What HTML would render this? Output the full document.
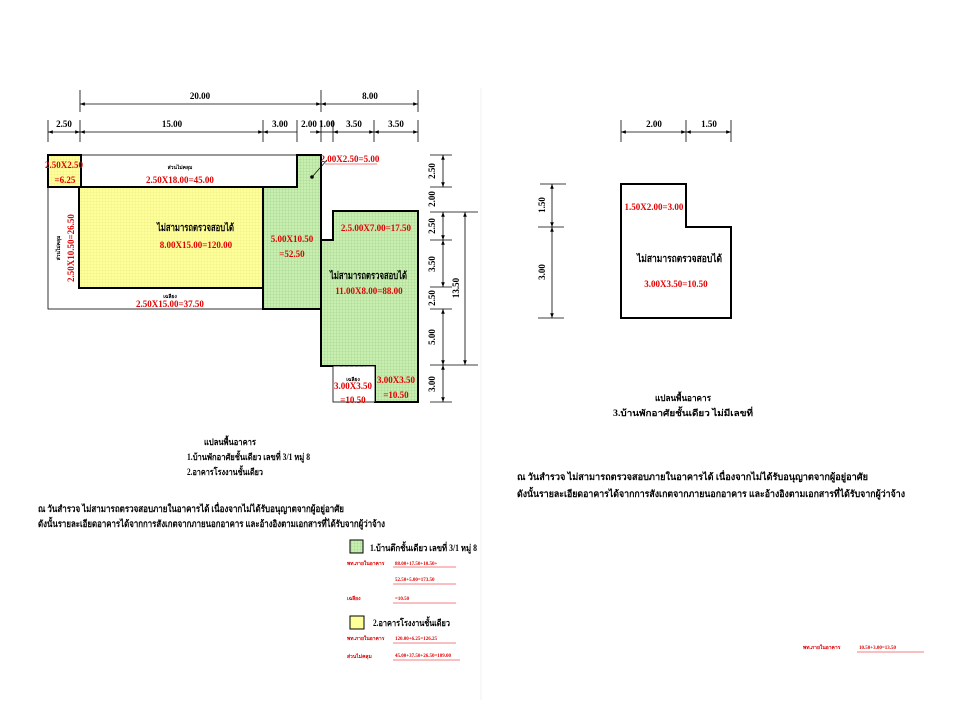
<!DOCTYPE html>
<html><head><meta charset="utf-8"><style>
html,body{margin:0;padding:0;background:#fff;}
svg{display:block;}
text{font-family:"Liberation Serif","Noto Serif CJK SC","Noto Sans CJK SC",serif;font-weight:bold;}
.d{font-size:9px;fill:#000;}
.r{font-size:9px;fill:#e00000;}
.t{font-size:9px;fill:#000;}
</style></head><body>
<svg width="960" height="720" viewBox="0 0 960 720" xmlns="http://www.w3.org/2000/svg">
<defs>
<pattern id="g" width="3" height="3" patternUnits="userSpaceOnUse">
<rect width="3" height="3" fill="#c8eeb0"/>
<path d="M0 0H3M0 0V3" stroke="#9ccf86" stroke-width="0.6"/>
</pattern>
<pattern id="y" width="3" height="3" patternUnits="userSpaceOnUse">
<rect width="3" height="3" fill="#ffff9a"/>
<path d="M0 0H3M0 0V3" stroke="#e8e880" stroke-width="0.5"/>
</pattern>
<marker id="a" viewBox="0 0 8 6" refX="8" refY="3" markerWidth="6" markerHeight="5" orient="auto-start-reverse"><path d="M0 0L8 3L0 6z" fill="#000"/></marker>
</defs>
<line x1="481" y1="88" x2="481" y2="700" stroke="#f2f2f2" stroke-width="1"/>
<g stroke="#000" stroke-width="0.8" fill="none">
<line x1="80" y1="90" x2="80" y2="112"/><line x1="321" y1="90" x2="321" y2="112"/><line x1="418" y1="90" x2="418" y2="112"/>
<line x1="80" y1="104" x2="321" y2="104" marker-start="url(#a)" marker-end="url(#a)"/>
<line x1="321" y1="104" x2="418" y2="104" marker-start="url(#a)" marker-end="url(#a)"/>
<line x1="48" y1="120" x2="48" y2="142"/><line x1="80" y1="120" x2="80" y2="142"/><line x1="263" y1="120" x2="263" y2="142"/><line x1="297" y1="120" x2="297" y2="142"/><line x1="321" y1="120" x2="321" y2="142"/><line x1="333" y1="120" x2="333" y2="142"/><line x1="374" y1="120" x2="374" y2="142"/><line x1="418" y1="120" x2="418" y2="142"/>
<line x1="48" y1="132" x2="80" y2="132" marker-start="url(#a)" marker-end="url(#a)"/>
<line x1="80" y1="132" x2="263" y2="132" marker-start="url(#a)" marker-end="url(#a)"/>
<line x1="263" y1="132" x2="297" y2="132" marker-start="url(#a)"/>
<line x1="310" y1="132" x2="321" y2="132" marker-end="url(#a)"/>
<line x1="321" y1="132" x2="333" y2="132"/>
<line x1="333" y1="132" x2="374" y2="132" marker-start="url(#a)" marker-end="url(#a)"/>
<line x1="374" y1="132" x2="418" y2="132" marker-start="url(#a)" marker-end="url(#a)"/>
</g>
<text class="d" x="200" y="99" text-anchor="middle">20.00</text>
<text class="d" x="370" y="99" text-anchor="middle">8.00</text>
<text class="d" x="64" y="127" text-anchor="middle">2.50</text>
<text class="d" x="172" y="127" text-anchor="middle">15.00</text>
<text class="d" x="280" y="127" text-anchor="middle">3.00</text>
<text class="d" x="309" y="127" text-anchor="middle">2.00</text>
<text class="d" x="327" y="127" text-anchor="middle">1.00</text>
<text class="d" x="354" y="127" text-anchor="middle">3.50</text>
<text class="d" x="396" y="127" text-anchor="middle">3.50</text>
<rect x="48" y="155" width="249" height="32" fill="#fff" stroke="#000" stroke-width="0.8"/>
<rect x="48" y="187" width="215" height="122" fill="#fff" stroke="#000" stroke-width="0.8"/>
<rect x="48" y="155" width="33" height="32" fill="url(#y)" stroke="#000" stroke-width="2"/>
<rect x="79" y="187" width="184" height="101" fill="url(#y)" stroke="#000" stroke-width="2"/>
<path d="M263 187H297V155H321V309H263Z" fill="url(#g)" stroke="#000" stroke-width="2"/>
<path d="M321 240H333V211H418V402H375V366H321Z" fill="url(#g)" stroke="#000" stroke-width="2"/>
<rect x="333" y="366" width="42" height="36" fill="#fff" stroke="#000" stroke-width="0.8"/>
<line x1="340" y1="366" x2="366" y2="366" stroke="#000" stroke-width="1" stroke-dasharray="3 2"/>
<line x1="312" y1="177" x2="327" y2="160" stroke="#000" stroke-width="0.7"/>
<circle cx="312" cy="177" r="1.8" fill="#000"/>
<text class="r" x="64" y="168" text-anchor="middle">2.50X2.50</text>
<text class="r" x="65" y="183" text-anchor="middle">=6.25</text>
<text class="t" x="180" y="169" text-anchor="middle" style="font-size:5px">ส่วนไม่คลุม</text>
<text class="r" x="180" y="183" text-anchor="middle">2.50X18.00=45.00</text>
<text class="t" x="60" y="248" text-anchor="middle" style="font-size:5px" transform="rotate(-90 60 248)">ส่วนไม่คลุม</text>
<text class="r" x="74" y="248" text-anchor="middle" transform="rotate(-90 74 248)">2.50X10.50=26.50</text>
<text class="t" x="157" y="231" style="font-size:10px" textLength="77" lengthAdjust="spacingAndGlyphs">ไม่สามารถตรวจสอบได้</text>
<text class="r" x="196" y="248" text-anchor="middle">8.00X15.00=120.00</text>
<text class="t" x="170" y="298" text-anchor="middle" style="font-size:5px">เฉลียง</text>
<text class="r" x="170" y="307" text-anchor="middle">2.50X15.00=37.50</text>
<text class="r" x="292" y="242" text-anchor="middle">5.00X10.50</text>
<text class="r" x="292" y="257" text-anchor="middle">=52.50</text>
<text class="r" x="350" y="162" text-anchor="middle">2.00X2.50=5.00</text>
<line x1="325" y1="164" x2="377" y2="164" stroke="#e00000" stroke-width="0.5"/>
<text class="r" x="376" y="231" text-anchor="middle">2.5.00X7.00=17.50</text>
<text class="t" x="330" y="279" style="font-size:10px" textLength="77" lengthAdjust="spacingAndGlyphs">ไม่สามารถตรวจสอบได้</text>
<text class="r" x="369" y="294" text-anchor="middle">11.00X8.00=88.00</text>
<text class="t" x="353" y="381" text-anchor="middle" style="font-size:5px">เฉลียง</text>
<text class="r" x="353" y="389" text-anchor="middle">3.00X3.50</text>
<text class="r" x="353" y="403" text-anchor="middle">=10.50</text>
<text class="r" x="396" y="383" text-anchor="middle">3.00X3.50</text>
<text class="r" x="396" y="398" text-anchor="middle">=10.50</text>
<g stroke="#000" stroke-width="0.8" fill="none">
<line x1="430" y1="155" x2="452" y2="155"/><line x1="430" y1="187" x2="452" y2="187"/><line x1="430" y1="212" x2="478" y2="212"/><line x1="430" y1="240" x2="452" y2="240"/><line x1="430" y1="287" x2="452" y2="287"/><line x1="430" y1="309" x2="452" y2="309"/><line x1="430" y1="365" x2="478" y2="365"/><line x1="430" y1="402" x2="452" y2="402"/>
<line x1="443" y1="155" x2="443" y2="187" marker-start="url(#a)" marker-end="url(#a)"/>
<line x1="443" y1="212" x2="443" y2="240" marker-start="url(#a)" marker-end="url(#a)"/>
<line x1="443" y1="240" x2="443" y2="287" marker-start="url(#a)" marker-end="url(#a)"/>
<line x1="443" y1="309" x2="443" y2="365" marker-start="url(#a)" marker-end="url(#a)"/>
<line x1="443" y1="365" x2="443" y2="402" marker-start="url(#a)" marker-end="url(#a)"/>
<line x1="465" y1="212" x2="465" y2="365" marker-start="url(#a)" marker-end="url(#a)"/>
</g>
<text class="d" x="435" y="171" text-anchor="middle" transform="rotate(-90 435 171)">2.50</text>
<text class="d" x="435" y="199" text-anchor="middle" transform="rotate(-90 435 199)">2.00</text>
<text class="d" x="435" y="226" text-anchor="middle" transform="rotate(-90 435 226)">2.50</text>
<text class="d" x="435" y="264" text-anchor="middle" transform="rotate(-90 435 264)">3.50</text>
<text class="d" x="435" y="298" text-anchor="middle" transform="rotate(-90 435 298)">2.50</text>
<text class="d" x="435" y="337" text-anchor="middle" transform="rotate(-90 435 337)">5.00</text>
<text class="d" x="435" y="384" text-anchor="middle" transform="rotate(-90 435 384)">3.00</text>
<text class="d" x="459" y="288" text-anchor="middle" transform="rotate(-90 459 288)">13.50</text>
<text class="t" x="204" y="445" style="font-size:9px" textLength="52" lengthAdjust="spacingAndGlyphs">แปลนพื้นอาคาร</text>
<text class="t" x="187" y="460" style="font-size:9px" textLength="123" lengthAdjust="spacingAndGlyphs">1.บ้านพักอาศัยชั้นเดียว เลขที่ 3/1 หมู่ 8</text>
<text class="t" x="187" y="475" style="font-size:9px" textLength="76" lengthAdjust="spacingAndGlyphs">2.อาคารโรงงานชั้นเดียว</text>
<text class="t" x="38" y="512" style="font-size:9.5px" textLength="306" lengthAdjust="spacingAndGlyphs">ณ วันสำรวจ ไม่สามารถตรวจสอบภายในอาคารได้ เนื่องจากไม่ได้รับอนุญาตจากผู้อยู่อาศัย</text>
<text class="t" x="38" y="527" style="font-size:9.5px" textLength="347" lengthAdjust="spacingAndGlyphs">ดังนั้นรายละเอียดอาคารได้จากการสังเกตจากภายนอกอาคาร และอ้างอิงตามเอกสารที่ได้รับจากผู้ว่าจ้าง</text>
<rect x="350" y="540" width="13" height="13" fill="url(#g)" stroke="#000" stroke-width="1"/>
<text class="t" x="370" y="551" style="font-size:9px" textLength="107" lengthAdjust="spacingAndGlyphs">1.บ้านตึกชั้นเดียว เลขที่ 3/1 หมู่ 8</text>
<text class="r" x="347" y="565" style="font-size:5px">พท.ภายในอาคาร</text>
<text class="r" x="395" y="565" style="font-size:5px">88.00+17.50+10.50+</text>
<line x1="393" y1="567" x2="456" y2="567" stroke="#e00000" stroke-width="0.5"/>
<text class="r" x="395" y="581" style="font-size:5px">52.50+5.00=173.50</text>
<line x1="393" y1="584" x2="456" y2="584" stroke="#e00000" stroke-width="0.5"/>
<text class="r" x="347" y="600" style="font-size:5px">เฉลียง</text>
<text class="r" x="395" y="600" style="font-size:5px">=10.50</text>
<line x1="393" y1="603" x2="456" y2="603" stroke="#e00000" stroke-width="0.5"/>
<rect x="350" y="616" width="14" height="13" fill="#ffff9a" stroke="#000" stroke-width="1"/>
<text class="t" x="373" y="626" style="font-size:9px" textLength="77" lengthAdjust="spacingAndGlyphs">2.อาคารโรงงานชั้นเดียว</text>
<text class="r" x="347" y="640" style="font-size:5px">พท.ภายในอาคาร</text>
<text class="r" x="395" y="640" style="font-size:5px">120.00+6.25=126.25</text>
<line x1="393" y1="643" x2="456" y2="643" stroke="#e00000" stroke-width="0.5"/>
<text class="r" x="347" y="658" style="font-size:5px">ส่วนไม่คลุม</text>
<text class="r" x="395" y="657" style="font-size:5px">45.00+37.50+26.50=109.00</text>
<line x1="393" y1="660" x2="460" y2="660" stroke="#e00000" stroke-width="0.5"/>
<g stroke="#000" stroke-width="0.8" fill="none">
<line x1="621" y1="120" x2="621" y2="142"/><line x1="686" y1="120" x2="686" y2="142"/><line x1="731" y1="120" x2="731" y2="142"/>
<line x1="621" y1="132" x2="686" y2="132" marker-start="url(#a)" marker-end="url(#a)"/>
<line x1="686" y1="132" x2="731" y2="132" marker-start="url(#a)" marker-end="url(#a)"/>
<line x1="540" y1="184" x2="566" y2="184"/><line x1="538" y1="227" x2="564" y2="227"/><line x1="538" y1="318" x2="564" y2="318"/>
<line x1="552" y1="184" x2="552" y2="227" marker-start="url(#a)" marker-end="url(#a)"/>
<line x1="552" y1="227" x2="552" y2="318" marker-start="url(#a)" marker-end="url(#a)"/>
</g>
<text class="d" x="654" y="127" text-anchor="middle">2.00</text>
<text class="d" x="709" y="127" text-anchor="middle">1.50</text>
<text class="d" x="545" y="205" text-anchor="middle" transform="rotate(-90 545 205)">1.50</text>
<text class="d" x="545" y="272" text-anchor="middle" transform="rotate(-90 545 272)">3.00</text>
<path d="M621 184H686V227H731V318H621Z" fill="#fff" stroke="#000" stroke-width="2"/>
<text class="r" x="654" y="210" text-anchor="middle">1.50X2.00=3.00</text>
<text class="t" x="637" y="262" style="font-size:10px" textLength="85" lengthAdjust="spacingAndGlyphs">ไม่สามารถตรวจสอบได้</text>
<text class="r" x="676" y="287" text-anchor="middle">3.00X3.50=10.50</text>
<text class="t" x="655" y="401" style="font-size:9px" textLength="56" lengthAdjust="spacingAndGlyphs">แปลนพื้นอาคาร</text>
<text class="t" x="613" y="416" style="font-size:9px" textLength="140" lengthAdjust="spacingAndGlyphs">3.บ้านพักอาศัยชั้นเดียว ไม่มีเลขที่</text>
<text class="t" x="517" y="480" style="font-size:9.5px" textLength="351" lengthAdjust="spacingAndGlyphs">ณ วันสำรวจ ไม่สามารถตรวจสอบภายในอาคารได้ เนื่องจากไม่ได้รับอนุญาตจากผู้อยู่อาศัย</text>
<text class="t" x="517" y="497" style="font-size:9.5px" textLength="388" lengthAdjust="spacingAndGlyphs">ดังนั้นรายละเอียดอาคารได้จากการสังเกตจากภายนอกอาคาร และอ้างอิงตามเอกสารที่ได้รับจากผู้ว่าจ้าง</text>
<text class="r" x="803" y="649" style="font-size:5px">พท.ภายในอาคาร</text>
<text class="r" x="859" y="649" style="font-size:5px">10.50+3.00=13.50</text>
<line x1="857" y1="652" x2="924" y2="652" stroke="#e00000" stroke-width="0.5"/>
</svg>
</body></html>
